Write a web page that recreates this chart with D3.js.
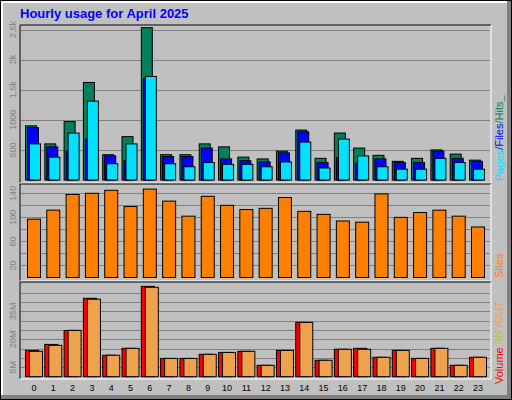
<!DOCTYPE html>
<html><head><meta charset="utf-8">
<script src="https://cdn.jsdelivr.net/npm/d3@7"></script>
<style>body{margin:0;background:#fff}svg{display:block}text{font-family:"Liberation Sans",Arial,sans-serif}</style>
</head><body><div id="chart"></div>
<script>
// Data
let hours = d3.range(24);
let hits  = [900,600,970,1620,420,720,2530,420,420,600,550,380,350,480,830,360,780,530,410,310,360,500,430,330];
let files = [870,550,480,680,400,320,1680,390,390,530,350,320,300,450,800,290,370,280,350,290,290,480,360,310];
let pages = [600,380,780,1310,270,600,1720,270,220,290,260,260,220,300,630,200,680,400,220,180,180,360,290,180];
let sites = [97,112,138,140,145,118,147,127,102,135,120,113,115,133,110,105,94,92,139,100,108,112,102,84];
let volIn  = [14.1,17.3,24.8,42,11.5,15.2,48.4,9.8,9.8,12,13,13.6,6.1,14.1,29.1,8.8,14.7,15.2,10.4,14.1,9.8,15.2,6.1,10.4];
let volOut = [13.6,16.8,24.8,41.5,11.5,15.2,47.9,9.8,9.8,12,13,13.6,6.1,14.1,29.1,8.8,14.7,14.7,10.4,14.1,9.8,15.2,6.1,10.4];
let hitTicks = [500,1000,1500,2000,2500], hitLabels = ['500','1000','1,5k','2k','2,5k'];
let siteTicks = [20,60,100,140];
let volTicks = [5,20,35], volLabels = ['5M','20M','35M'];

let svg = d3.select('#chart').append('svg').attr('width',512).attr('height',400);

// frame
svg.append('rect').attr('width',512).attr('height',400).attr('fill','#000');
svg.append('rect').attr('x',1).attr('y',1).attr('width',510).attr('height',398).attr('fill','#808080');
svg.append('rect').attr('x',1).attr('y',1).attr('width',506).attr('height',394).attr('fill','#fff');
svg.append('rect').attr('x',3).attr('y',3).attr('width',504).attr('height',392).attr('fill','#c0c0c0');

svg.append('text').text('Hourly usage for April 2025')
	.attr('x',20).attr('y',18).attr('font-size',13).attr('font-weight','bold').attr('fill','#0000ff');

let x = d3.scaleLinear().domain([0,23]).range([33,477]);

function panel(y0, y1){
	svg.append('line').attr('x1',20).attr('x2',491).attr('y1',y0).attr('y2',y0).attr('stroke','#000');
	svg.append('line').attr('x1',20).attr('x2',20).attr('y1',y0).attr('y2',y1).attr('stroke','#000');
	svg.append('line').attr('x1',20).attr('x2',491).attr('y1',y1).attr('y2',y1).attr('stroke','#fff');
	svg.append('line').attr('x1',491).attr('x2',491).attr('y1',y0).attr('y2',y1).attr('stroke','#fff');
}
function grid(scale, vals){
	svg.append('g').selectAll('line').data(vals).enter().append('line')
		.attr('x1',21).attr('x2',490)
		.attr('y1',d=>Math.round(scale(d))+0.5).attr('y2',d=>Math.round(scale(d))+0.5)
		.attr('stroke','#808080');
}
function yLabels(scale, vals, labels){
	svg.append('g').selectAll('text').data(vals).enter().append('text')
		.text((d,i)=>labels[i])
		.attr('transform',d=>'translate(16,'+scale(d)+') rotate(-90)')
		.attr('text-anchor','middle').attr('font-size',9).attr('fill','#808080');
}
function bars(data, scale, off, w, fill){
	svg.append('g').selectAll('rect').data(data).enter().append('rect')
		.attr('x',(d,i)=>x(i)+off).attr('y',d=>scale(d))
		.attr('width',w).attr('height',d=>scale(0)-scale(d))
		.attr('fill',fill).attr('stroke','#000').attr('stroke-width',1);
}
function sideLabel(parts, yStart){
	let t = svg.append('text').attr('transform','translate(503,'+yStart+') rotate(-90)')
		.attr('font-size',11);
	parts.forEach(p=>t.append('tspan').text(p[0]).attr('fill',p[1]));
}

// Panel 1: hits/files/pages
let y1 = d3.scaleLinear().domain([0,2500]).range([180,29.5]);
panel(25,183);
grid(y1, d3.range(500,2501,500));
yLabels(y1, hitTicks, hitLabels);
bars(hits, y1, -7.5, 11, '#00805c');
bars(files, y1, -5.5, 11, '#0000ff');
bars(pages, y1, -3.5, 11, '#00e0ff');
sideLabel([['Pages','#00e0ff'],['/Files','#0000ff'],['/Hits_','#00805c']], 181);

// Panel 2: sites
let y2 = d3.scaleLinear().domain([0,140]).range([277.5,193.3]);
panel(184,281);
grid(y2, d3.range(20,141,20));
yLabels(y2, siteTicks, siteTicks.map(String));
bars(sites, y2, -5.5, 13, '#ff8000');
sideLabel([['Sites','#ff8000']], 278);

// Panel 3: volume
let y3 = d3.scaleLinear().domain([0,45]).range([376.7,292.7]);
panel(282,379);
grid(y3, d3.range(5,46,5));
yLabels(y3, volTicks, volLabels);
bars(volIn, y3, -7.5, 13, '#ff0000');
bars(volOut, y3, -3.5, 13, '#efa24e');
sideLabel([['Volume','#ff0000'],[' /IN','#c8c800'],[' /OUT','#efa24e'],['  ','#000']], 384);

// hour labels
svg.append('g').selectAll('text').data(hours).enter().append('text')
	.text(d=>d).attr('x',d=>x(d)+1).attr('y',391)
	.attr('text-anchor','middle').attr('font-size',9).attr('fill','#000');
</script></body></html>
